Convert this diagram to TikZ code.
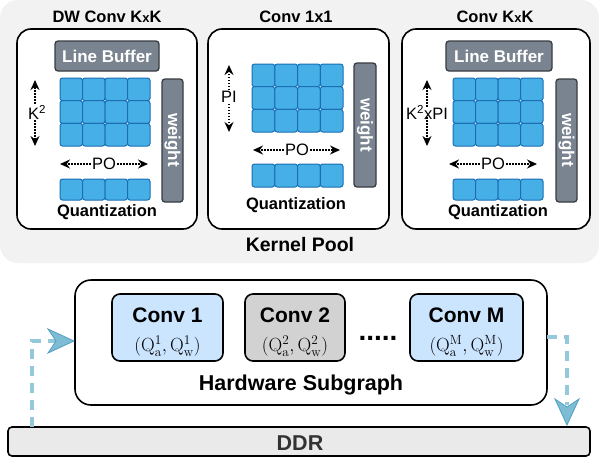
\RequirePackage{fix-cm}
\documentclass[tikz,border=0pt]{standalone}
\usepackage{fontspec}
\setsansfont{Liberation Sans}
\usetikzlibrary{arrows.meta}
\definecolor{poolbg}{RGB}{242,242,242}
\definecolor{cellfill}{RGB}{70,176,230}
\definecolor{cellborder}{RGB}{25,110,180}
\definecolor{darkgray}{RGB}{122,132,144}
\definecolor{darkborder}{RGB}{55,60,66}
\definecolor{convblue}{RGB}{204,229,255}
\definecolor{convgray}{RGB}{210,210,210}
\definecolor{ddrfill}{RGB}{234,234,234}
\definecolor{dashblue}{RGB}{150,200,220}
\definecolor{headfill}{RGB}{125,188,212}
\definecolor{headdraw}{RGB}{80,160,195}
\tikzset{
  every node/.style={font=\sffamily},
  cell/.style={draw=cellborder, fill=cellfill, rounded corners=2.5pt, line width=1pt},
  panel/.style={draw=black, fill=white, line width=1.6pt, rounded corners=14pt},
  graybar/.style={draw=darkborder, fill=darkgray, line width=1.3pt, rounded corners=3pt},
  bartext/.style={text=white, font=\sffamily\bfseries\fontsize{17}{20}\selectfont, inner sep=0pt},
  titletext/.style={font=\sffamily\bfseries\fontsize{16.5}{20}\selectfont, inner sep=0pt},
  lbltext/.style={font=\sffamily\fontsize{16.5}{19}\selectfont, inner sep=1pt},
  dotarrow/.style={dash pattern=on 1.4pt off 1.6pt, line width=1.4pt, -{Stealth[length=10pt,width=9pt]}},
  convbox/.style={draw=black, line width=1.6pt, rounded corners=8pt},
  flow/.style={draw=dashblue, line width=3.5pt, dash pattern=on 10pt off 7pt},
  headshape/.style={fill=headfill, draw=headdraw, line width=0.8pt},
  mathtext/.style={inner sep=0pt, font=\fontsize{19}{22}\selectfont},
}
\begin{document}
\begin{tikzpicture}[x=1pt,y=-1pt]
\useasboundingbox (0,0) rectangle (599,461);
% kernel pool background
\fill[poolbg, rounded corners=18pt] (0,0) rectangle (599,263);

% ---------- Panel 1 ----------
\draw[panel] (17,29) rectangle (197,229);
\node[titletext] (t1) at (107,17) {DW Conv K{\fontsize{13}{15}\selectfont x}K};
\draw[graybar] (55,41) rectangle (159,71);
\node[bartext] (lb1) at (107,56) {Line Buffer};
\foreach \i in {0,...,3}\foreach \j in {0,...,2}
  \draw[cell] ({60+\i*22.5},{78+\j*22.67}) rectangle ++(22.5,22.67);
\foreach \i in {0,...,3}
  \draw[cell] ({60+\i*22.5},179) rectangle ++(22.5,21);
\draw[graybar] (162,79) rectangle (183,202);
\node[bartext, rotate=-90] (w1) at (172.5,140) {weight};
\node[lbltext] (k1) at (37,112) {K\textsuperscript{2}};
\coordinate (k1t) at (35,80);
\coordinate (k1b) at (35,146);
\draw[dotarrow] (k1.north -| k1t) -- (k1t);
\draw[dotarrow] (k1.south -| k1b) -- (k1b);
\node[lbltext] (po1) at (104,164) {PO};
\coordinate (po1l) at (60,164);
\coordinate (po1r) at (148,164);
\draw[dotarrow] (po1.west) -- (po1l);
\draw[dotarrow] (po1.east) -- (po1r);
\node[titletext] (q1) at (107,212) {Quantization};

% ---------- Panel 2 ----------
\draw[panel] (208,29) rectangle (389,229);
\node[titletext] (t2) at (296,17) {Conv 1x1};
\foreach \i in {0,...,3}\foreach \j in {0,...,2}
  \draw[cell] ({252+\i*22.75},{64+\j*22.67}) rectangle ++(22.75,22.67);
\foreach \i in {0,...,3}
  \draw[cell] ({252+\i*22.75},164) rectangle ++(22.75,23);
\draw[graybar] (354,63) rectangle (376,187);
\node[bartext, rotate=-90] (w2) at (365,125) {weight};
\node[lbltext] (pi2) at (229,97) {PI};
\coordinate (pi2t) at (229,65);
\coordinate (pi2b) at (229,132);
\draw[dotarrow] (pi2.north) -- (pi2t);
\draw[dotarrow] (pi2.south) -- (pi2b);
\node[lbltext] (po2) at (297,150) {PO};
\coordinate (po2l) at (253,150);
\coordinate (po2r) at (340,150);
\draw[dotarrow] (po2.west) -- (po2l);
\draw[dotarrow] (po2.east) -- (po2r);
\node[titletext] (q2) at (296,205) {Quantization};

% ---------- Panel 3 ----------
\draw[panel] (402,29) rectangle (590,229);
\node[titletext] (t3) at (495,17) {Conv K{\fontsize{13}{15}\selectfont x}K};
\draw[graybar] (446,41) rectangle (552,71);
\node[bartext] (lb3) at (499,56) {Line Buffer};
\foreach \i in {0,...,3}\foreach \j in {0,...,2}
  \draw[cell] ({453+\i*22.5},{78+\j*22.67}) rectangle ++(22.5,22.67);
\foreach \i in {0,...,3}
  \draw[cell] ({453+\i*22.5},179) rectangle ++(22.5,21);
\draw[graybar] (556,79) rectangle (577,202);
\node[bartext, rotate=-90] (w3) at (566.5,140) {weight};
\node[lbltext, inner sep=0pt] (k3) at (427,112) {K\textsuperscript{2}xPI};
\coordinate (k3t) at (427,80);
\coordinate (k3b) at (427,146);
\draw[dotarrow] ([yshift=-2pt]k3.north -| k3t) -- (k3t);
\draw[dotarrow] ([yshift=2pt]k3.south -| k3b) -- (k3b);
\node[lbltext] (po3) at (493,164) {PO};
\coordinate (po3l) at (449,164);
\coordinate (po3r) at (537,164);
\draw[dotarrow] (po3.west) -- (po3l);
\draw[dotarrow] (po3.east) -- (po3r);
\node[titletext] (q3) at (498,212) {Quantization};

\node[font=\sffamily\bfseries\fontsize{19.5}{22}\selectfont] (kp) at (300,245) {Kernel Pool};

% ---------- Hardware subgraph ----------
\draw[draw=black, fill=white, line width=1.6pt, rounded corners=16pt] (75,280) rectangle (547,405);
\draw[convbox, fill=convblue] (112,294) rectangle (223,361);
\node[titletext, font=\sffamily\bfseries\fontsize{21}{24}\selectfont] (c1) at (167.5,315) {Conv 1};
\node[mathtext] (m1) at (167.5,346) {$(\mathrm{Q}_{\mathrm{a}}^{1},\mathrm{Q}_{\mathrm{w}}^{1})$};
\draw[convbox, fill=convgray] (245,294) rectangle (345,361);
\node[titletext, font=\sffamily\bfseries\fontsize{21}{24}\selectfont] (c2) at (295,315) {Conv 2};
\node[mathtext] (m2) at (295,346) {$(\mathrm{Q}_{\mathrm{a}}^{2},\mathrm{Q}_{\mathrm{w}}^{2})$};
\node[font=\sffamily\bfseries\fontsize{28}{30}\selectfont, inner sep=0pt] (dots) at (378,338) {.....};
\draw[convbox, fill=convblue] (410,294) rectangle (523,361);
\node[titletext, font=\sffamily\bfseries\fontsize{21}{24}\selectfont] (cm) at (466.5,315) {Conv M};
\node[mathtext] (mm) at (466.5,346) {$(\mathrm{Q}_{\mathrm{a}}^{\mathrm{M}},\mathrm{Q}_{\mathrm{w}}^{\mathrm{M}})$};
\node[font=\sffamily\bfseries\fontsize{21.5}{24}\selectfont] (hs) at (301,385) {Hardware Subgraph};

% ---------- DDR ----------
\draw[draw=black, fill=ddrfill, line width=1.6pt, rounded corners=4pt] (8,427) rectangle (590,456);
\node[text=black!80, font=\sffamily\bfseries\fontsize{21.5}{24}\selectfont] (ddrt) at (300,443) {DDR};

% ---------- flow arrows ----------
\coordinate (lbot) at (32,427);
\coordinate (lcorner) at (32,341);
\coordinate (lend) at (56,341);
\coordinate (ltip) at (74,341);
\draw[flow] (lbot) -- (lcorner) -- (lend);
\fill[headshape] (ltip) -- ++(-26,-12) -- ++(8,12) -- ++(-8,12) -- cycle;
\coordinate (rstart) at (547,337);
\coordinate (rcorner) at (567,337);
\coordinate (rend) at (567,405);
\coordinate (rtip) at (567,425);
\draw[flow] (rstart) -- (rcorner) -- (rend);
\fill[headshape] (rtip) -- ++(-12,-26) -- ++(12,8) -- ++(12,-8) -- cycle;
\end{tikzpicture}
\end{document}
